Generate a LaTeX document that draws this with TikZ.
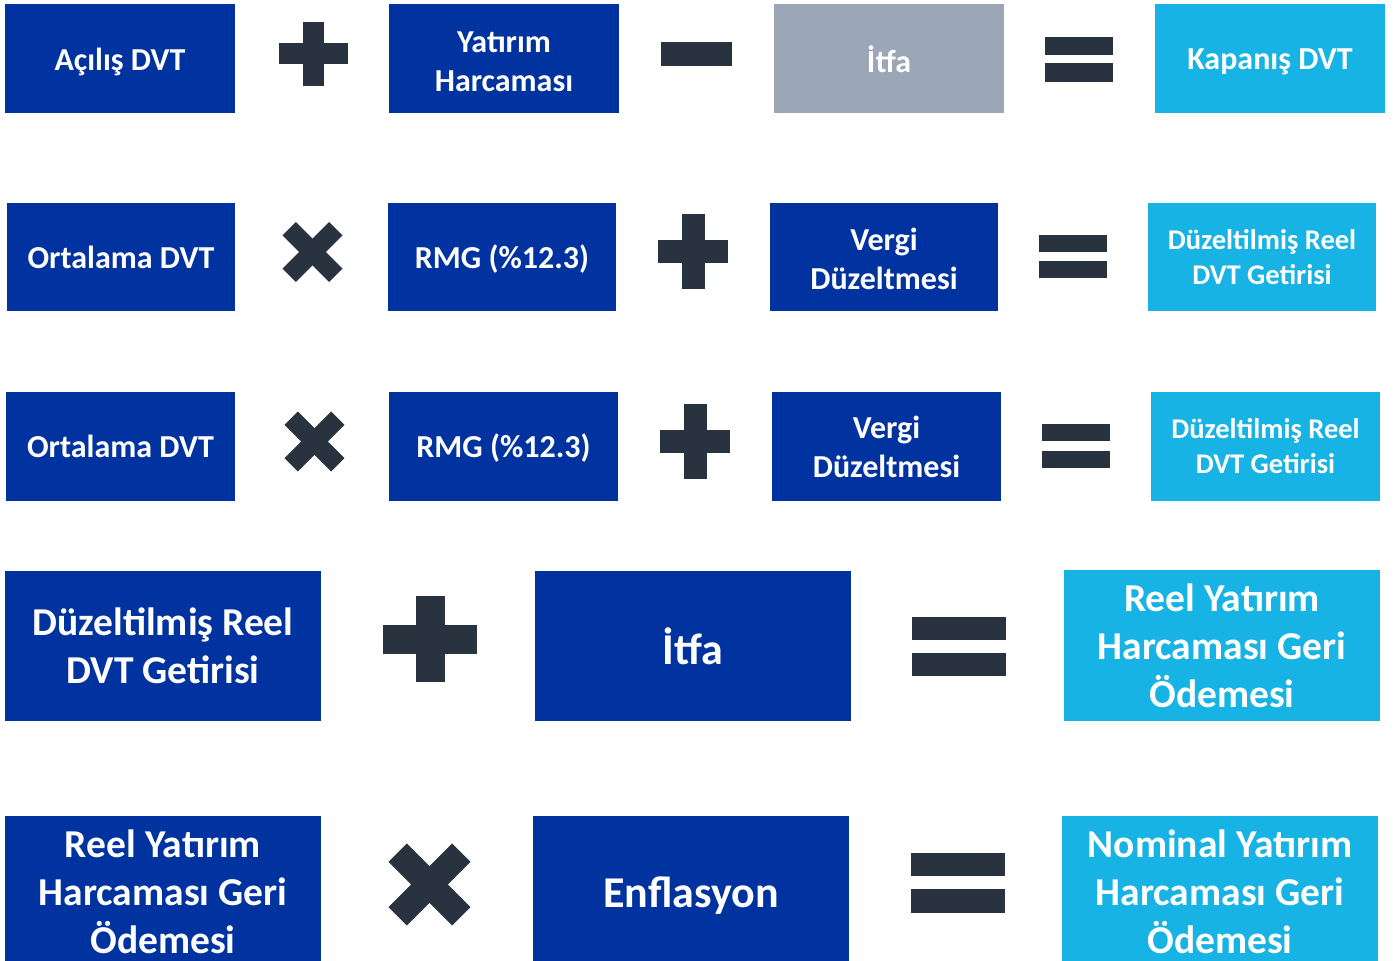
\documentclass[tikz,border=0pt]{standalone}
\usepackage{fontspec}
\setmainfont{Carlito}
\definecolor{dkblue}{HTML}{0033A0}
\definecolor{ltblue}{HTML}{17B3E4}
\definecolor{grbox}{HTML}{9BA6B6}
\definecolor{symcol}{HTML}{29333F}
\newcommand\plusmark[5]{% cx cy halfw halfh halfarm
  \fill[symcol] (#1-#3,#2-#5) rectangle (#1+#3,#2+#5);
  \fill[symcol] (#1-#5,#2-#4) rectangle (#1+#5,#2+#4);}
\newcommand\timesmark[4]{% cx cy halfarmlength halfarmwidth
  \fill[symcol, rotate around={45:(#1,#2)}] (#1-#3,#2-#4) rectangle (#1+#3,#2+#4);
  \fill[symcol, rotate around={45:(#1,#2)}] (#1-#4,#2-#3) rectangle (#1+#4,#2+#3);}
\newcommand\eqmark[6]{% x1 x2 y1 y2 y3 y4
  \fill[symcol] (#1,#3) rectangle (#2,#4);
  \fill[symcol] (#1,#5) rectangle (#2,#6);}
\newcommand\dn[2][3pt]{\raisebox{-#1}[\height][\depth]{#2}}
\begin{document}
\begin{tikzpicture}[x=1pt,y=-1pt,
  box/.style={inner sep=0pt, align=center, text=white, font=\bfseries\fontsize{32}{39}\selectfont},
  dk/.style={box, fill=dkblue},
  lt/.style={box, fill=ltblue},
  gr/.style={box, fill=grbox},
  smallf/.style={font=\bfseries\fontsize{28.5}{35}\selectfont},
  bigf/.style={font=\bfseries\fontsize{39.5}{48}\selectfont},
  midf/.style={font=\bfseries\fontsize{44}{52}\selectfont}]
\useasboundingbox (0,0) rectangle (1398,961);
\fill[white] (0,0) rectangle (1398,961);
% Row 1
\node[dk, minimum width=230pt, minimum height=109pt] (a1) at (120,58.5) {\dn{Açılış DVT}};
\node[dk, minimum width=230pt, minimum height=109pt] (a2) at (504,58.5) {\dn{Yatırım}\\\dn{Harcaması}};
\node[gr, minimum width=230pt, minimum height=109pt] (a3) at (889,58.5) {\dn[1pt]{İtfa}};
\node[lt, minimum width=230pt, minimum height=109pt] (a4) at (1270,58.5) {\dn{Kapanış DVT}};
\plusmark{313.5}{53.5}{34.5}{32}{10.5}
\fill[symcol] (661,42) rectangle (732,66);
\eqmark{1045}{1113}{37}{55}{63}{82}
% Row 2
\node[dk, minimum width=228pt, minimum height=108pt] (b1) at (121,257) {Ortalama DVT};
\node[dk, minimum width=228pt, minimum height=108pt] (b2) at (502,257) {\dn[2pt]{RMG (\%12.3)}};
\node[dk, minimum width=228pt, minimum height=108pt] (b3) at (884,257) {\dn[2pt]{Vergi}\\\dn[2pt]{Düzeltmesi}};
\node[lt, smallf, minimum width=228pt, minimum height=108pt] (b4) at (1262,257) {Düzeltilmiş Reel\\DVT Getirisi};
\timesmark{312.5}{252}{33}{9.5}
\plusmark{693}{251.5}{35}{37.5}{11.5}
\eqmark{1039}{1107}{235}{252}{261}{278}
% Row 3
\node[dk, minimum width=229pt, minimum height=109pt] (c1) at (120.5,446.5) {Ortalama DVT};
\node[dk, minimum width=229pt, minimum height=109pt] (c2) at (503.5,446.5) {\dn[2pt]{RMG (\%12.3)}};
\node[dk, minimum width=229pt, minimum height=109pt] (c3) at (886.5,446.5) {Vergi\\Düzeltmesi};
\node[lt, smallf, minimum width=229pt, minimum height=109pt] (c4) at (1265.5,446.5) {Düzeltilmiş Reel\\DVT Getirisi};
\timesmark{314.5}{441.5}{33}{9.5}
\plusmark{695}{441.5}{35}{37.5}{11.5}
\eqmark{1042}{1110}{424}{441}{451}{468}
% Row 4
\node[dk, bigf, minimum width=316pt, minimum height=150pt] (d1) at (163,646) {Düzeltilmiş Reel\\DVT Getirisi};
\node[dk, midf, minimum width=316pt, minimum height=150pt] (d2) at (693,646) {İtfa};
\node[lt, bigf, minimum width=316pt, minimum height=151pt] (d3) at (1222,645.5) {Reel Yatırım\\Harcaması Geri\\Ödemesi};
\plusmark{430}{639}{47}{43}{14.5}
\eqmark{912}{1006}{617}{640}{653}{676}
% Row 5
\node[dk, bigf, minimum width=316pt, minimum height=152pt] (e1) at (163,892) {Reel Yatırım\\Harcaması Geri\\Ödemesi};
\node[dk, midf, minimum width=316pt, minimum height=152pt] (e2) at (691,892) {\dn[4pt]{Enflasyon}};
\node[lt, bigf, minimum width=316pt, minimum height=152pt] (e3) at (1220,892) {Nominal Yatırım\\Harcaması Geri\\Ödemesi};
\timesmark{429.5}{884.5}{45}{13}
\eqmark{911}{1005}{853}{876}{889}{913}
\end{tikzpicture}
\end{document}
